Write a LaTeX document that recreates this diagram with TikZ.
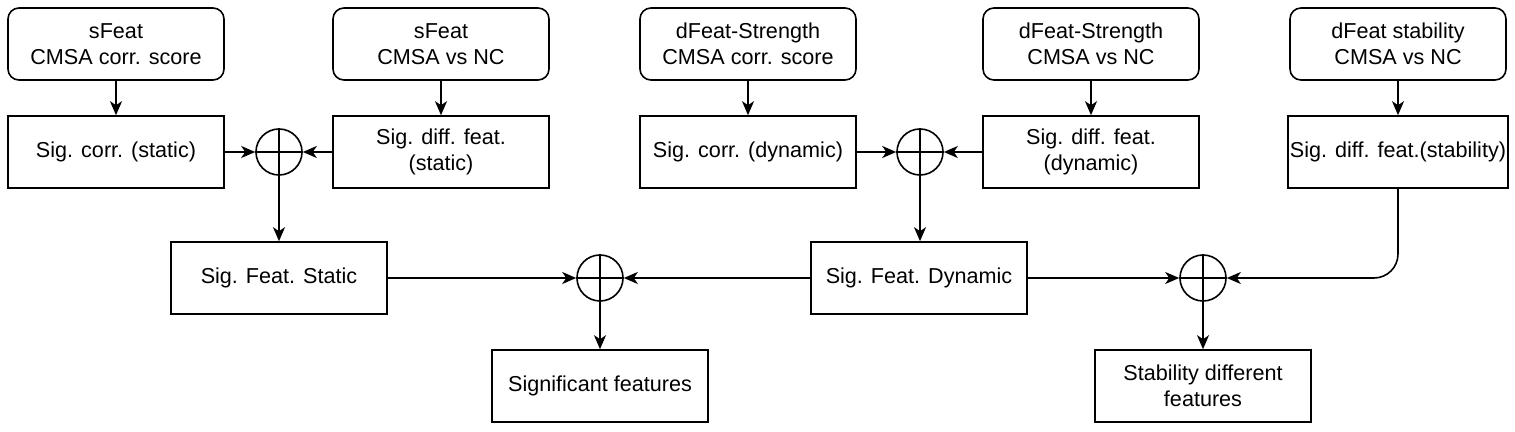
\documentclass[tikz,border=0pt]{standalone}
\usepackage{fontspec}
\setmainfont{Liberation Sans}
\usepackage{tikz}
\usetikzlibrary{arrows.meta}

\begin{document}
\begin{tikzpicture}[x=0.5pt,y=-0.5pt,line width=0.8pt,
    every node/.style={font=\fontsize{10.8}{13}\selectfont, align=center},
    srcbox/.style={draw, rounded corners=5.5pt, minimum width=108pt, minimum height=36pt, inner sep=1pt},
    featbox/.style={draw, minimum width=108pt, minimum height=36pt, inner sep=1pt},
    sumnode/.style={draw, circle, minimum size=23pt, inner sep=0pt},
    arr/.style={-{Stealth[length=7pt,width=6pt,inset=2pt]}}]
    \useasboundingbox (0,0) rectangle (1515,432);
    % sources
    \node[srcbox] (src1) at (116,44) {sFeat\\CMSA corr. score};
    \node[srcbox] (src2) at (441,44) {sFeat\\CMSA vs NC};
    \node[srcbox] (src3) at (748,44) {dFeat-Strength\\CMSA corr. score};
    \node[srcbox] (src4) at (1091,44) {dFeat-Strength\\CMSA vs NC};
    \node[srcbox] (src5) at (1398,44) {dFeat stability\\CMSA vs NC};
    % significance tests
    \node[featbox] (corrS) at (116,152) {Sig. corr. (static)};
    \node[featbox] (diffS) at (441,152) {Sig. diff. feat.\\(static)};
    \node[featbox] (corrD) at (748,152) {Sig. corr. (dynamic)};
    \node[featbox] (diffD) at (1091,152) {Sig. diff. feat.\\(dynamic)};
    \node[featbox] (diffT) at (1398,152) {Sig. diff. feat.(stability)};
    % sums
    \node[sumnode] (sum1) at (279,152) {};
    \node[sumnode] (sum2) at (920,152) {};
    \node[sumnode] (sum3) at (600,278) {};
    \node[sumnode] (sum4) at (1203,278) {};
    \foreach \s in {sum1,sum2,sum3,sum4}
        \draw (\s.north) -- (\s.south) (\s.west) -- (\s.east);
    % merged features
    \node[featbox] (featS) at (279,278) {Sig. Feat. Static};
    \node[featbox] (featD) at (919,278) {Sig. Feat. Dynamic};
    \node[featbox] (sigF) at (600,386) {Significant features};
    \node[featbox] (stabF) at (1203,386) {Stability different\\features};
    % arrows
    \foreach \a/\b in {src1/corrS,src2/diffS,src3/corrD,src4/diffD,src5/diffT}
        \draw[arr] (\a) -- (\b);
    \draw[arr] (corrS) -- (sum1);
    \draw[arr] (diffS) -- (sum1);
    \draw[arr] (corrD) -- (sum2);
    \draw[arr] (diffD) -- (sum2);
    \draw[arr] (sum1.south) -- (sum1.south |- featS.north);
    \draw[arr] (sum2.south) -- (sum2.south |- featD.north);
    \draw[arr] (featS) -- (sum3);
    \draw[arr] (featD) -- (sum3);
    \draw[arr] (featD) -- (sum4);
    \draw[arr, rounded corners=12pt] (diffT.south) |- (sum4.east);
    \draw[arr] (sum3.south) -- (sigF.north);
    \draw[arr] (sum4.south) -- (stabF.north);
\end{tikzpicture}
\end{document}
